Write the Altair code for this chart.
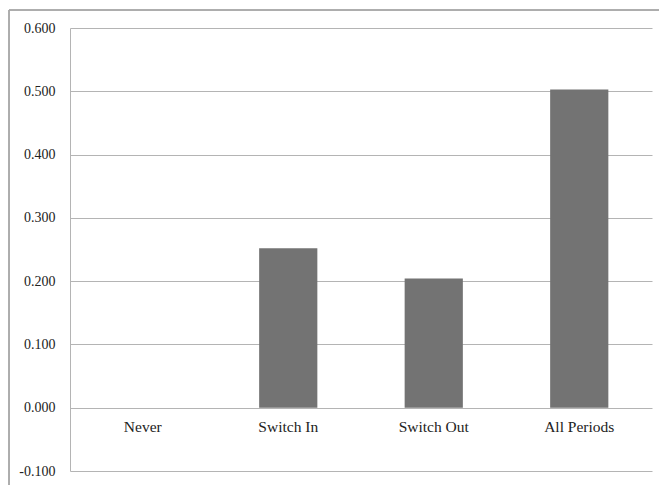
import altair as alt
import pandas as pd

# Average value by switching group
categories = ["Never", "Switch In", "Switch Out", "All Periods"]
values = [0.000, 0.252, 0.204, 0.503]

df = pd.DataFrame({"group": categories, "value": values})

FONT = "Liberation Serif"
GRID = "#b4b4b4"

x_enc = alt.X(
    "group:N",
    sort=categories,
    axis=None,
    scale=alt.Scale(paddingInner=0.6, paddingOuter=0.3),
)
y_scale = alt.Scale(domain=[-0.1, 0.6], nice=False, zero=False)

bars = alt.Chart(df).mark_bar(color="#737373").encode(
    x=x_enc,
    y=alt.Y(
        "value:Q",
        scale=y_scale,
        title=None,
        axis=alt.Axis(
            values=[-0.1, 0.0, 0.1, 0.2, 0.3, 0.4, 0.5, 0.6],
            labelExpr="replace(format(datum.value, '.3f'), '\u2212', '-')",
            ticks=False,
            labelPadding=15,
            labelFont=FONT,
            labelFontSize=14,
            labelColor="#222222",
            domainColor=GRID,
            gridColor=GRID,
            gridWidth=1,
        ),
    ),
    y2=alt.datum(0),
)

# Category names sit just under the zero line
labels = alt.Chart(df).mark_text(
    font=FONT, fontSize=15.5, color="#222222", dy=19
).encode(
    x=x_enc,
    y=alt.datum(0, scale=y_scale),
    text="group:N",
)

# Outer chart frame (left and top edges)
frame_left = alt.Chart(df).mark_rule(color="#a8a8a8", strokeWidth=1).encode(
    x=alt.value(-61), y=alt.value(-18), y2=alt.value(460)
)
frame_top = alt.Chart(df).mark_rule(color="#a8a8a8", strokeWidth=1).encode(
    x=alt.value(-61), x2=alt.value(600), y=alt.value(-18)
)

chart = (
    alt.layer(bars, labels, frame_left, frame_top)
    .properties(
        width=582,
        height=443,
        autosize=alt.AutoSizeParams(type="none"),
        padding={"left": 70, "top": 28, "right": 7, "bottom": 14},
        background="white",
    )
    .configure_view(stroke=None)
)

chart.save("out.html", embed_options={"renderer": "svg", "actions": False})
